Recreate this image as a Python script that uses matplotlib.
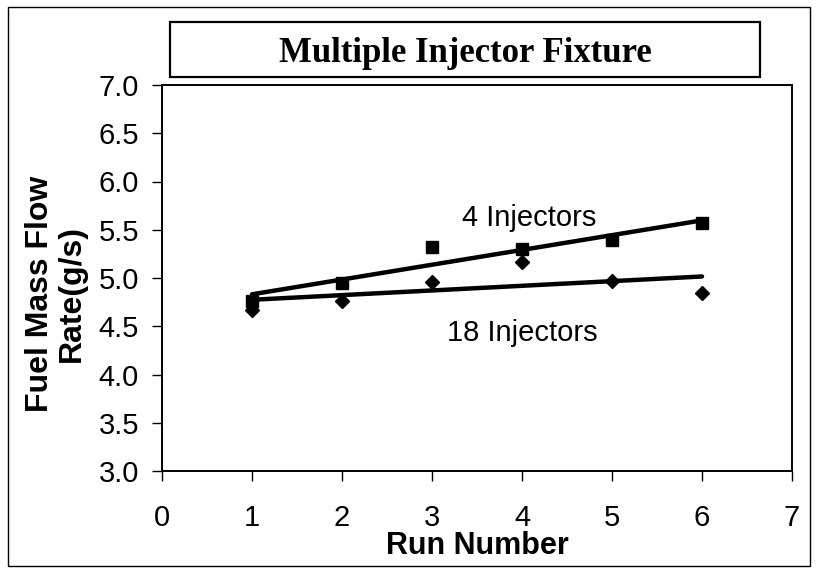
import numpy as np
import matplotlib
matplotlib.use("Agg")
import matplotlib.pyplot as plt
from matplotlib.patches import Rectangle

# --- Dados ---
runs = [1, 2, 3, 4, 5, 6]
flow_4inj = [4.76, 4.945, 5.32, 5.30, 5.39, 5.57]
flow_18inj = [4.67, 4.76, 4.96, 5.17, 4.97, 4.84]
x_ticks = [0, 1, 2, 3, 4, 5, 6, 7]
y_ticks = [3.0, 3.5, 4.0, 4.5, 5.0, 5.5, 6.0, 6.5, 7.0]

plt.rcParams['font.family'] = ['Liberation Sans', 'DejaVu Sans']

fig = plt.figure(figsize=(8.17, 5.72), dpi=100)
ax = fig.add_axes([162 / 817, 1 - 471 / 572, 630 / 817, 386 / 572])

# Moldura externa e caixa do titulo
fig.patches.append(Rectangle((8 / 817, 1 - 566 / 572), 802 / 817, 559 / 572,
                             transform=fig.transFigure, fill=False, lw=1.0, ec='black'))
fig.patches.append(Rectangle((170 / 817, 1 - 77 / 572), 590 / 817, 55 / 572,
                             transform=fig.transFigure, fill=False, lw=1.6, ec='black'))
fig.text(465 / 817, 1 - 54 / 572, "Multiple Injector Fixture", ha='center', va='center',
         fontsize=25, fontweight='bold', family=['Liberation Serif', 'DejaVu Serif'])

# Pontos
ax.plot(runs, flow_4inj, 's', color='black', markersize=9, zorder=3)
ax.plot(runs, flow_18inj, 'D', color='black', markersize=7, zorder=3)

# Linhas de tendencia (regressao linear, como no Excel)
xr = np.array(runs, dtype=float)
for ys in (flow_4inj, flow_18inj):
    a, b = np.polyfit(xr, ys, 1)
    ax.plot([xr[0], xr[-1]], [a * xr[0] + b, a * xr[-1] + b], '-', color='black',
            lw=3.2, solid_capstyle='round', zorder=2)

ax.text(4.08, 5.62, "4 Injectors", ha='center', va='center', fontsize=21)
ax.text(4.0, 4.43, "18 Injectors", ha='center', va='center', fontsize=21)

ax.set_xlim(0, 7)
ax.set_ylim(3.0, 7.0)
ax.set_xticks(x_ticks)
ax.set_yticks(y_ticks)
ax.set_yticklabels([f"{v:.1f}" for v in y_ticks])
ax.tick_params(axis='both', direction='out', length=7.5, width=1.0, labelsize=21)
ax.tick_params(axis='y', pad=9)
ax.tick_params(axis='x', pad=16)
for s in ax.spines.values():
    s.set_linewidth(1.4)

fig.text(477 / 817, 1 - 546 / 572, "Run Number", ha='center', va='center',
         fontsize=22, fontweight='bold')
fig.text(56 / 817, 1 - 294 / 572, "Fuel Mass Flow\nRate(g/s)", ha='center', va='center',
         rotation=90, fontsize=23, fontweight='bold', linespacing=1.1)

fig.savefig("out.png", dpi=100)
